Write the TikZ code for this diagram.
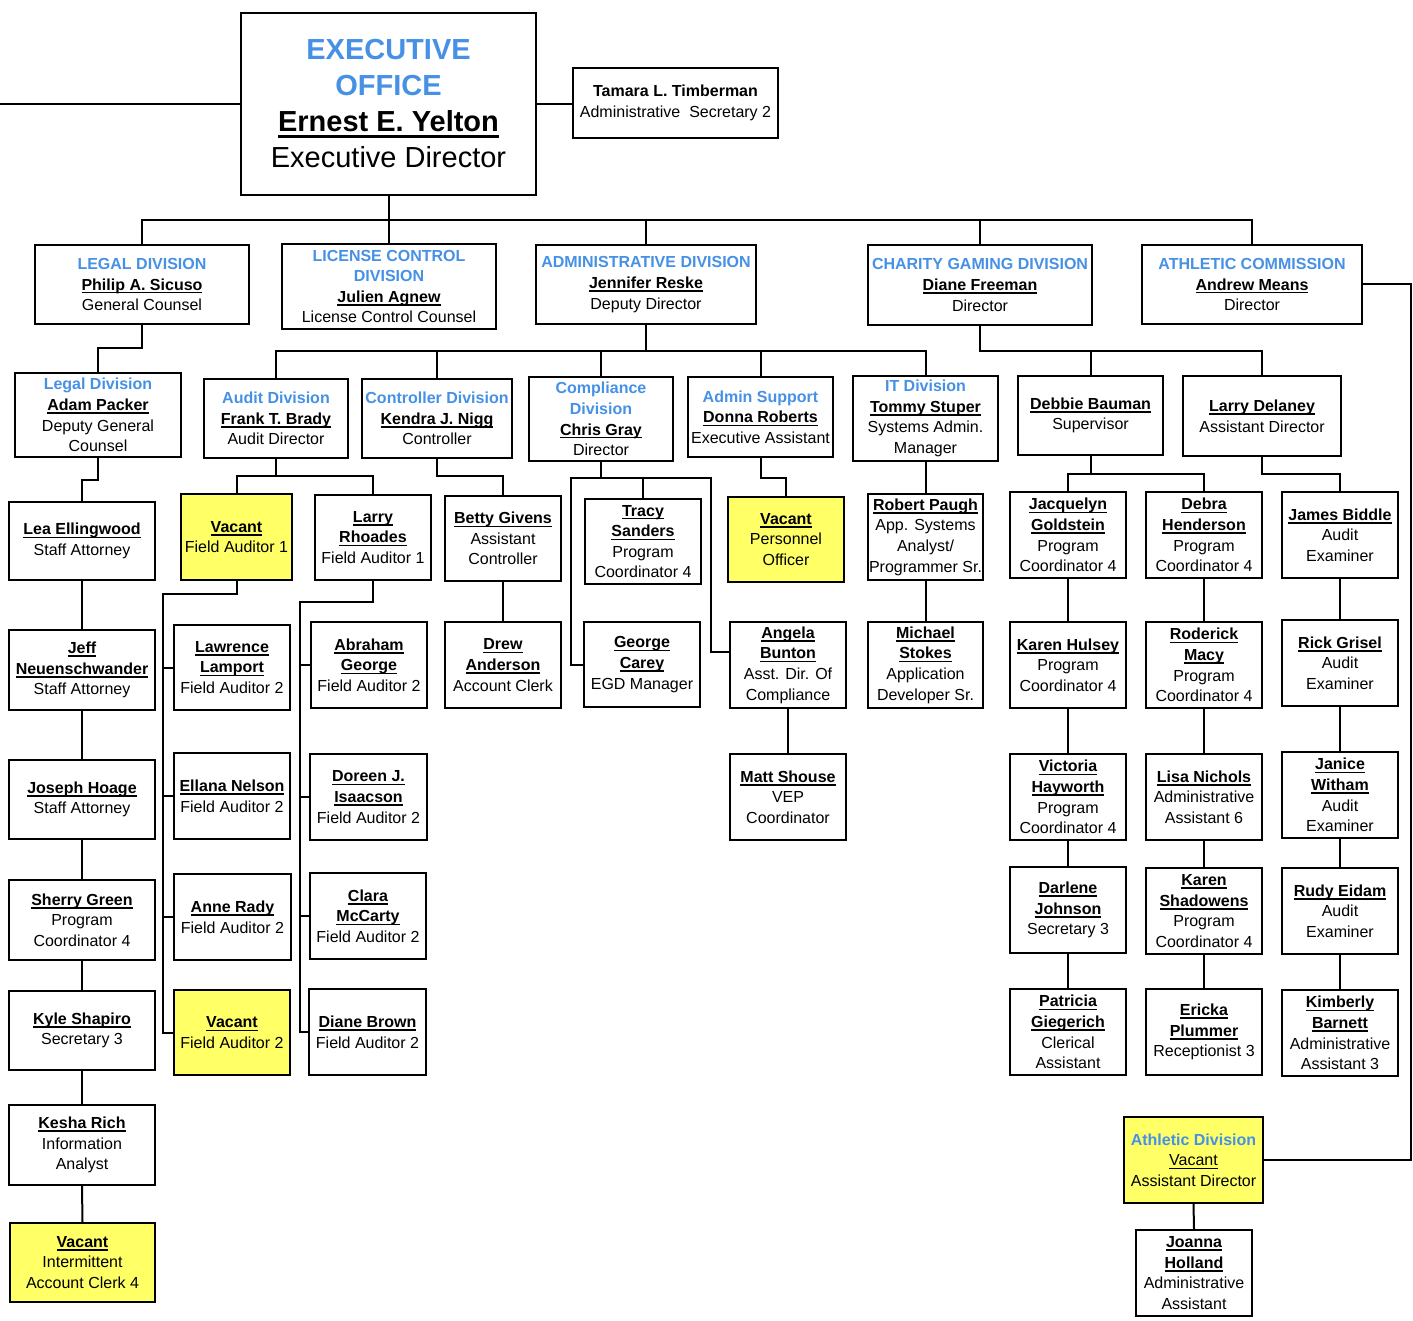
\documentclass[tikz,border=0pt]{standalone}
\usepackage{fontspec}
\setmainfont{Liberation Sans}
\definecolor{hblue}{RGB}{70,145,230}
\definecolor{vyel}{RGB}{255,255,102}
\newcommand\ulbox[3]{{\setbox0\hbox{#3}\leavevmode\rlap{\rule[#1]{\wd0}{#2}}\box0}}
\newcommand\nm[1]{\ulbox{-3.4pt}{1.5pt}{\bfseries #1}}
\newcommand\ulv[1]{\ulbox{-3.4pt}{1.2pt}{#1}}
\newcommand\nmB[1]{\ulbox{-6pt}{2.6pt}{\bfseries #1}}
\newcommand\hd[1]{{\color{hblue}\bfseries #1}}
\tikzset{
  box/.style={draw, line width=2pt, fill=white, inner sep=0pt, align=center,
    font=\fontsize{16}{20.6}\selectfont},
  vac/.style={box, fill=vyel},
  conn/.style={line width=2pt, line cap=rect}
}
\newcommand\bx[7][box]{\node[#1, minimum width={(#5-#3)*1pt}, minimum height={(#6-#4)*1pt}] (#2) at ({(#3+#5)/2},{(#4+#6)/2}) {#7};}
\begin{document}
\begin{tikzpicture}[x=1pt,y=-1pt]
\useasboundingbox (0,0) rectangle (1413,1321);
% top
\bx[box, font=\fontsize{29}{36}\selectfont]{exec}{241}{13}{536}{195}{\hd{EXECUTIVE}\\\hd{OFFICE}\\\nmB{Ernest E. Yelton}\\Executive Director}
\bx{tam}{573}{68}{778}{138}{\textbf{Tamara L. Timberman}\\Administrative\ \ Secretary 2}
% level 1
\bx{legal}{35}{245}{249}{324}{\hd{LEGAL DIVISION}\\\nm{Philip A. Sicuso}\\General Counsel}
\bx{lcd}{282}{244}{496}{329}{\hd{LICENSE CONTROL}\\\hd{DIVISION}\\\nm{Julien Agnew}\\License Control Counsel}
\bx{adm}{536}{245}{756}{324}{\hd{ADMINISTRATIVE DIVISION}\\\nm{Jennifer Reske}\\Deputy Director}
\bx{chg}{868}{245}{1092}{325}{\hd{CHARITY GAMING DIVISION}\\\nm{Diane Freeman}\\Director}
\bx{athc}{1142}{245}{1362}{324}{\hd{ATHLETIC COMMISSION}\\\nm{Andrew Means}\\Director}
% level 2
\bx{packer}{15}{373}{181}{457}{\hd{Legal Division}\\\nm{Adam Packer}\\Deputy General\\Counsel}
\bx{audit}{204}{379}{348}{458}{\hd{Audit Division}\\\nm{Frank T. Brady}\\Audit Director}
\bx{ctrl}{362}{379}{512}{458}{\hd{Controller Division}\\\nm{Kendra J. Nigg}\\Controller}
\bx{comp}{529}{377}{673}{461}{\hd{Compliance}\\\hd{Division}\\\nm{Chris Gray}\\Director}
\bx{supp}{688}{377}{833}{457}{\hd{Admin Support}\\\nm{Donna Roberts}\\Executive Assistant}
\bx{it}{853}{376}{998}{461}{\hd{IT Division}\\\nm{Tommy Stuper}\\Systems Admin.\\Manager}
\bx{debb}{1018}{376}{1163}{455}{\nm{Debbie Bauman}\\Supervisor}
\bx{ldel}{1183}{376}{1341}{456}{\nm{Larry Delaney}\\Assistant Director}
% legal column
\bx{lea}{9}{502}{155}{580}{\nm{Lea Ellingwood}\\Staff Attorney}
\bx{jeff}{9}{630}{155}{710}{\nm{Jeff}\\\nm{Neuenschwander}\\Staff Attorney}
\bx{jhoa}{9}{760}{155}{839}{\nm{Joseph Hoage}\\Staff Attorney}
\bx{sgre}{9}{880}{155}{960}{\nm{Sherry Green}\\Program\\Coordinator 4}
\bx{kshp}{9}{991}{155}{1070}{\nm{Kyle Shapiro}\\Secretary 3}
\bx{krich}{9}{1105}{155}{1185}{\nm{Kesha Rich}\\Information\\Analyst}
\bx[vac]{vac4}{10}{1223}{155}{1302}{\nm{Vacant}\\Intermittent\\Account Clerk 4}
% audit
\bx[vac]{vfa1}{181}{494}{292}{580}{\nm{Vacant}\\Field Auditor 1}
\bx{lrho}{315}{495}{431}{580}{\nm{Larry}\\\nm{Rhoades}\\Field Auditor 1}
\bx{llam}{174}{625}{290}{710}{\nm{Lawrence}\\\nm{Lamport}\\Field Auditor 2}
\bx{enel}{174}{753}{290}{839}{\nm{Ellana Nelson}\\Field Auditor 2}
\bx{arad}{174}{874}{291}{960}{\nm{Anne Rady}\\Field Auditor 2}
\bx[vac]{vfa2}{174}{990}{290}{1075}{\nm{Vacant}\\Field Auditor 2}
\bx{ageo}{311}{622}{427}{708}{\nm{Abraham}\\\nm{George}\\Field Auditor 2}
\bx{disa}{310}{754}{427}{840}{\nm{Doreen J.}\\\nm{Isaacson}\\Field Auditor 2}
\bx{cmcc}{310}{873}{426}{959}{\nm{Clara}\\\nm{McCarty}\\Field Auditor 2}
\bx{dbro}{309}{989}{426}{1075}{\nm{Diane Brown}\\Field Auditor 2}
% controller
\bx{betty}{445}{496}{561}{581}{\nm{Betty Givens}\\Assistant\\Controller}
\bx{drew}{445}{622}{561}{708}{\nm{Drew}\\\nm{Anderson}\\Account Clerk}
% compliance
\bx{tracy}{585}{499}{701}{584}{\nm{Tracy}\\\nm{Sanders}\\Program\\Coordinator 4}
\bx{gcar}{584}{622}{700}{707}{\nm{George}\\\nm{Carey}\\EGD Manager}
\bx{abun}{730}{622}{846}{708}{\nm{Angela}\\\nm{Bunton}\\Asst. Dir. Of\\Compliance}
\bx{matt}{730}{754}{846}{840}{\nm{Matt Shouse}\\VEP\\Coordinator}
% support
\bx[vac]{vpo}{728}{497}{844}{582}{\nm{Vacant}\\Personnel\\Officer}
% IT
\bx{rpau}{868}{494}{983}{580}{\nm{Robert Paugh}\\App. Systems\\Analyst/\\Programmer Sr.}
\bx{mstk}{868}{622}{983}{708}{\nm{Michael}\\\nm{Stokes}\\Application\\Developer Sr.}
% charity
\bx{jgol}{1010}{492}{1126}{578}{\nm{Jacquelyn}\\\nm{Goldstein}\\Program\\Coordinator 4}
\bx{dhen}{1146}{492}{1262}{578}{\nm{Debra}\\\nm{Henderson}\\Program\\Coordinator 4}
\bx{jbid}{1282}{492}{1398}{578}{\nm{James Biddle}\\Audit\\Examiner}
\bx{khul}{1010}{622}{1126}{708}{\nm{Karen Hulsey}\\Program\\Coordinator 4}
\bx{rmac}{1146}{622}{1262}{708}{\nm{Roderick}\\\nm{Macy}\\Program\\Coordinator 4}
\bx{rgri}{1282}{620}{1398}{706}{\nm{Rick Grisel}\\Audit\\Examiner}
\bx{vhay}{1010}{754}{1126}{840}{\nm{Victoria}\\\nm{Hayworth}\\Program\\Coordinator 4}
\bx{lnic}{1146}{754}{1262}{840}{\nm{Lisa Nichols}\\Administrative\\Assistant 6}
\bx{jwit}{1282}{752}{1398}{838}{\nm{Janice}\\\nm{Witham}\\Audit\\Examiner}
\bx{djoh}{1010}{867}{1126}{953}{\nm{Darlene}\\\nm{Johnson}\\Secretary 3}
\bx{ksha}{1146}{868}{1262}{954}{\nm{Karen}\\\nm{Shadowens}\\Program\\Coordinator 4}
\bx{reid}{1282}{868}{1398}{954}{\nm{Rudy Eidam}\\Audit\\Examiner}
\bx{pgie}{1010}{989}{1126}{1075}{\nm{Patricia}\\\nm{Giegerich}\\Clerical\\Assistant}
\bx{eplu}{1146}{989}{1262}{1075}{\nm{Ericka}\\\nm{Plummer}\\Receptionist 3}
\bx{kbar}{1282}{990}{1398}{1076}{\nm{Kimberly}\\\nm{Barnett}\\Administrative\\Assistant 3}
% athletic
\bx[vac]{athd}{1124}{1117}{1263}{1203}{\hd{Athletic Division}\\\ulv{Vacant}\\Assistant Director}
\bx{jhol}{1136}{1230}{1252}{1316}{\nm{Joanna}\\\nm{Holland}\\Administrative\\Assistant}
% helper coordinates
\coordinate (lft) at (0,0);
\coordinate (rgt) at (1411,0);
\coordinate (b1) at (0,220);
\coordinate (b2) at (0,348);
\coordinate (b3) at (0,480);
\coordinate (b4) at (0,351);
\coordinate (b6) at (0,476);
\coordinate (b7) at (0,594);
\coordinate (b8) at (0,602);
\coordinate (b9) at (0,478);
\coordinate (b10) at (0,652);
\coordinate (b11) at (0,474);
\coordinate (colL) at (163,0);
\coordinate (colR) at (300,0);
\coordinate (cL) at (571,0);
\coordinate (cR) at (711,0);
% connectors
\draw[conn] (exec.west) -- (exec.west -| lft);
\draw[conn] (exec.east) -- (exec.east -| tam.west);
\draw[conn] (exec.south) -- (exec.south |- b1);
\draw[conn] (legal.north |- b1) -- (athc.north |- b1);
\foreach \n in {legal,lcd,adm,chg,athc} \draw[conn] (\n.north |- b1) -- (\n.north);
\draw[conn] (legal.south) -- (legal.south |- b2) -| (packer.north);
\draw[conn] (packer.south) -- (packer.south |- b3) -| (lea.north);
\draw[conn] (lea.south) -- (jeff.north);
\draw[conn] (jeff.south) -- (jhoa.north);
\draw[conn] (jhoa.south) -- (sgre.north);
\draw[conn] (sgre.south) -- (kshp.north);
\draw[conn] (kshp.south) -- (krich.north);
\draw[conn] (krich.south) -- (vac4.north);
% admin bus
\draw[conn] (adm.south) -- (adm.south |- b4);
\draw[conn] (audit.north |- b4) -- (it.north |- b4);
\foreach \n in {audit,ctrl,comp,supp,it} \draw[conn] (\n.north |- b4) -- (\n.north);
% charity
\draw[conn] (chg.south) -- (chg.south |- b4) -- (ldel.north |- b4) -- (ldel.north);
\draw[conn] (debb.north |- b4) -- (debb.north);
% athletic
\draw[conn] (athc.east) -- (athc.east -| rgt) |- (athd.east);
\draw[conn] (athd.south) -- (jhol.north);
% audit
\draw[conn] (audit.south) -- (audit.south |- b6);
\draw[conn] (vfa1.north |- b6) -- (lrho.north |- b6);
\draw[conn] (vfa1.north |- b6) -- (vfa1.north);
\draw[conn] (lrho.north |- b6) -- (lrho.north);
\draw[conn] (vfa1.south) -- (vfa1.south |- b7) -- (colL |- b7) |- (vfa2.west);
\foreach \n in {llam,enel,arad} \draw[conn] (colL |- \n.west) -- (\n.west);
\draw[conn] (lrho.south) -- (lrho.south |- b8) -- (colR |- b8) |- (dbro.west);
\foreach \n in {ageo,disa,cmcc} \draw[conn] (colR |- \n.west) -- (\n.west);
% controller
\draw[conn] (ctrl.south) -- (ctrl.south |- b6) -| (betty.north);
\draw[conn] (betty.south) -- (drew.north);
% compliance
\draw[conn] (comp.south) -- (comp.south |- b9);
\draw[conn] (cL |- b9) -- (cR |- b9);
\draw[conn] (tracy.north |- b9) -- (tracy.north);
\draw[conn] (cL |- b9) |- (gcar.west);
\draw[conn] (cR |- b9) -- (cR |- b10) -- (abun.west |- b10);
\draw[conn] (abun.south) -- (matt.north);
% support
\draw[conn] (supp.south) -- (supp.south |- b9) -| (vpo.north);
% IT
\draw[conn] (it.south) -- (rpau.north);
\draw[conn] (rpau.south) -- (mstk.north);
% charity children
\draw[conn] (debb.south) -- (debb.south |- b11);
\draw[conn] (jgol.north |- b11) -- (dhen.north |- b11);
\draw[conn] (jgol.north |- b11) -- (jgol.north);
\draw[conn] (dhen.north |- b11) -- (dhen.north);
\draw[conn] (ldel.south) -- (ldel.south |- b11) -| (jbid.north);
\draw[conn] (jgol.south) -- (khul.north);
\draw[conn] (khul.south) -- (vhay.north);
\draw[conn] (vhay.south) -- (djoh.north);
\draw[conn] (djoh.south) -- (pgie.north);
\draw[conn] (dhen.south) -- (rmac.north);
\draw[conn] (rmac.south) -- (lnic.north);
\draw[conn] (lnic.south) -- (ksha.north);
\draw[conn] (ksha.south) -- (eplu.north);
\draw[conn] (jbid.south) -- (rgri.north);
\draw[conn] (rgri.south) -- (jwit.north);
\draw[conn] (jwit.south) -- (reid.north);
\draw[conn] (reid.south) -- (kbar.north);
\end{tikzpicture}
\end{document}
